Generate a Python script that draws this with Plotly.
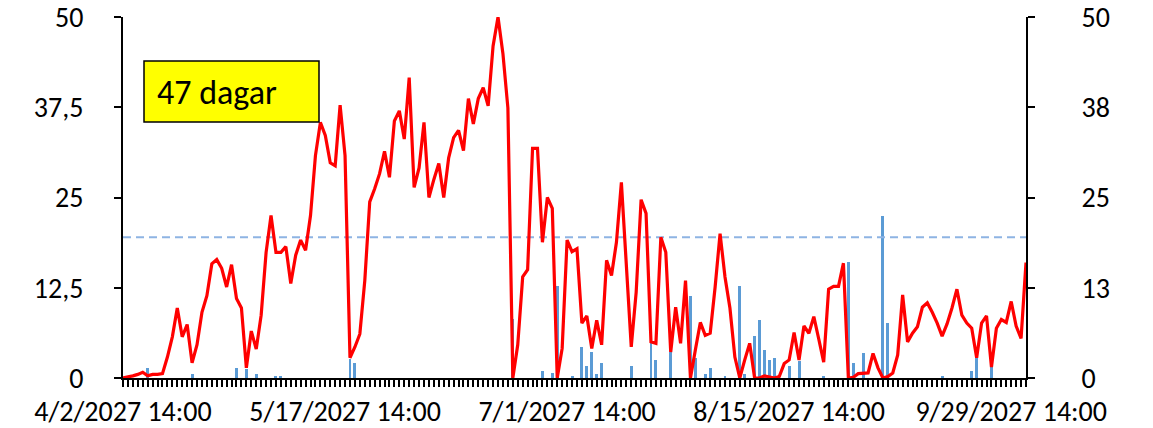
import pandas as pd
import plotly.graph_objects as go

# ---------------- data ----------------
START = "2027-04-02 14:00"
N_DAYS = 184
DATES = pd.date_range(START, periods=N_DAYS, freq="D")

LEVEL = [
    0, 0.1, 0.3, 0.5, 0.8, 0.3, 0.5, 0.5, 0.6, 2.9,
    5.7, 9.7, 5.7, 7.4, 2.1, 4.6, 9.1, 11.4, 15.8, 16.4,
    15.2, 12.6, 15.7, 11, 9.7, 1.4, 6.5, 4, 8.7, 17.4,
    22.5, 17.4, 17.4, 18.2, 13.1, 17, 19.1, 17.7, 22.5, 30.8,
    35.4, 33.6, 29.8, 29.4, 37.8, 30.8, 2.8, 4.3, 6.1, 13.5,
    24.4, 26.2, 28.3, 31.4, 27.8, 35.6, 37, 33.1, 41.6, 26.4,
    29.1, 35.4, 25, 27.5, 29.7, 25, 30.5, 33.3, 34.3, 31.5,
    38.7, 35.2, 38.7, 40.2, 37.7, 46, 50, 44.9, 37.4, 0,
    4.6, 14, 15, 31.8, 31.8, 18.8, 25, 23.5, 0, 4.1,
    19.1, 17.5, 17.9, 7.6, 8.6, 4.1, 8, 4.6, 16.3, 14.2,
    18.8, 27.1, 16.3, 4.3, 11.9, 24.7, 22.8, 5, 4.8, 19.5,
    17.4, 3.6, 9.8, 4.8, 13.5, 0, 3.9, 7.7, 5.9, 6.2,
    12.6, 20, 14, 9.7, 2.9, 0, 2.5, 4.8, 0, 0,
    0.3, 0.2, 0, 0.2, 2, 2.5, 6.3, 2.5, 7.2, 6.2,
    8.5, 5.4, 2.2, 12.3, 12.7, 12.7, 15.9, 0, 0.1, 0.6,
    0.6, 0.7, 3.4, 1.4, 0, 0.2, 0.7, 3.2, 11.5, 5,
    6.2, 7.1, 9.8, 10.4, 9.1, 7.6, 5.8, 7.5, 9.7, 12.3,
    8.7, 7.6, 6.9, 2.8, 7.6, 8.6, 1.5, 6.9, 8.1, 7.7,
    10.6, 7.2, 5.5, 16,
]

# rain bars: day index -> value
RAIN_DAY = [5, 14, 23, 25, 27, 31, 32, 46, 47, 79, 85, 87, 88, 91, 93, 94, 95, 96, 97,
            103, 107, 108, 111, 115, 116, 118, 119, 122, 125, 126, 128, 129, 130, 131,
            132, 135, 137, 142, 147, 148, 150, 154, 155, 166, 172, 173, 176]
RAIN_VAL = [1.4, 0.6, 1.4, 1.3, 0.6, 0.3, 0.3, 2.7, 2.1, 8.2, 1.0, 0.7, 12.7, 0.3, 4.3, 1.6, 3.6, 0.6, 2.1,
            1.6, 5.2, 2.5, 3.6, 11.3, 2.8, 0.6, 1.4, 0.3, 12.7, 0.6, 5.8, 8.0, 3.9, 2.5,
            2.8, 1.6, 2.3, 0.3, 16.1, 2.1, 3.4, 22.4, 7.6, 0.3, 1.0, 2.8, 1.5]

THRESHOLD = 19.5

X_TICK_EVERY = 45
X_TICK_LABELS = ["4/2/2027 14:00", "5/17/2027 14:00", "7/1/2027 14:00",
                 "8/15/2027 14:00", "9/29/2027 14:00"]
Y_TICKS = [0, 12.5, 25, 37.5, 50]
Y_LEFT_LABELS = ["0", "12,5", "25", "37,5", "50"]
Y_RIGHT_LABELS = ["0", "13", "25", "38", "50"]
BOX_TEXT = "47 dagar"

# ---------------- figure ----------------
rain = [0.0] * N_DAYS
for d, v in zip(RAIN_DAY, RAIN_VAL):
    rain[d] = v

FONT = "Carlito, Calibri, Lato, sans-serif"
W, H = 1153, 428
L, R, T, B = 123, 127, 17, 50
PW, PH = W - L - R, H - T - B

def px_x(p):
    return (p - L) / PW

def px_y(p):
    return (H - B - p) / PH

fig = go.Figure()
fig.add_trace(go.Bar(x=DATES, y=rain, marker=dict(color="#5B9BD5", line=dict(width=0)),
                     width=86400000 * 0.6, yaxis="y", showlegend=False))
fig.add_trace(go.Scatter(x=DATES, y=[THRESHOLD] * N_DAYS, mode="lines",
                         line=dict(color="#8EB4E3", width=2, dash="8px,5px"),
                         yaxis="y", showlegend=False))
fig.add_trace(go.Scatter(x=DATES, y=LEVEL, mode="lines",
                         line=dict(color="#FF0000", width=3.2),
                         yaxis="y2", showlegend=False))

axis_common = dict(range=[0, 50], tickvals=Y_TICKS, showgrid=False, zeroline=False,
                   showline=True, linecolor="black", linewidth=2, automargin=False,
                   ticklabeloverflow="allow",
                   ticks="outside", ticklen=7, tickwidth=2, tickcolor="black",
                   tickfont=dict(family=FONT, size=28, color="black"))

fig.update_layout(
    width=W, height=H,
    margin=dict(l=L, r=R, t=T, b=B),
    paper_bgcolor="white", plot_bgcolor="white",
    bargap=0,
    hovermode=False,
    xaxis=dict(type="date", range=[DATES[0], DATES[-1]],
               tickvals=[DATES[i] for i in range(0, N_DAYS, X_TICK_EVERY)],
               ticktext=X_TICK_LABELS, automargin=False, ticklabeloverflow="allow",
               showgrid=False, zeroline=False,
               showline=True, linecolor="black", linewidth=2,
               ticks="outside", ticklen=7, tickwidth=2, tickcolor="black",
               minor=dict(ticks="outside", ticklen=7, tickwidth=2, tickcolor="black",
                          dtick=86400000, tick0=DATES[0], showgrid=False),
               tickfont=dict(family=FONT, size=28, color="black")),
    yaxis=dict(side="left", ticktext=Y_LEFT_LABELS, ticklabelstandoff=25, **axis_common),
    yaxis2=dict(side="right", overlaying="y", ticktext=Y_RIGHT_LABELS,
                ticklabelstandoff=41, **axis_common),
    shapes=[dict(type="rect", xref="paper", yref="paper",
                 x0=px_x(144), x1=px_x(319), y0=px_y(122), y1=px_y(61),
                 fillcolor="#FFFF00", line=dict(color="black", width=1.5), layer="above")],
    annotations=[dict(text=BOX_TEXT, xref="paper", yref="paper",
                      x=px_x(155), y=px_y(92), xanchor="left", yanchor="middle",
                      showarrow=False, font=dict(family=FONT, size=34, color="black"))],
)

fig.write_html("out.html",
               config={"displayModeBar": False, "staticPlot": True},
               post_script="document.body.style.margin='0';document.body.style.overflow='hidden';")
